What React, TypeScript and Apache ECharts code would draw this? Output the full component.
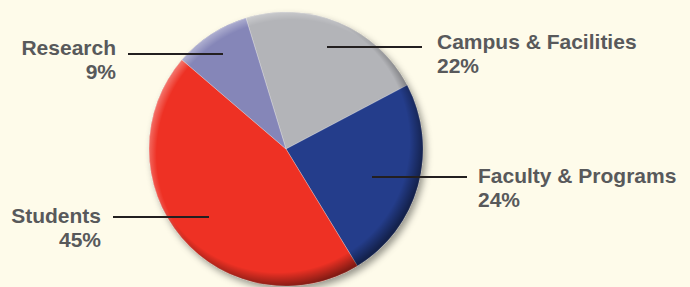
import React, { useEffect, useRef } from "react";
import * as echarts from "echarts";

const categories = ["Campus & Facilities", "Faculty & Programs", "Students", "Research"];
const values = [22, 24, 45, 9];
const colors = ["#b3b4b8", "#243d8b", "#ee3124", "#8586b8"];

export default function App() {
  const ref = useRef<HTMLDivElement>(null);
  useEffect(() => {
    document.body.style.margin = "0";
    const chart = echarts.init(ref.current!, null, { renderer: "svg" });
    const cx = 286, cy = 149, R = 137;
    const layout = [
      { tx: 437, ty: 41, align: "left", lx1: 327, lx2: 422, ly: 47 },
      { tx: 478, ty: 175, align: "left", lx1: 372, lx2: 467, ly: 177 },
      { tx: 101, ty: 215, align: "right", lx1: 113, lx2: 209, ly: 217 },
      { tx: 116, ty: 47, align: "right", lx1: 128, lx2: 223, ly: 54 },
    ];
    const textStyle = { fill: "#58595b", fontFamily: "Liberation Sans", fontWeight: "bold", fontSize: 21, lineHeight: 24 };
    const graphics: any[] = [
      {
        type: "circle",
        shape: { cx, cy, r: R },
        z: 0,
        style: { fill: "#c9c2b0", shadowBlur: 7, shadowOffsetX: 3, shadowOffsetY: 4, shadowColor: "rgba(0,0,0,0.4)" },
      },
      {
        type: "circle",
        shape: { cx, cy, r: R },
        z: 10,
        silent: true,
        style: {
          fill: new echarts.graphic.RadialGradient(cx - 8, cy - 8, R + 9, [
            { offset: 0, color: "rgba(0,0,0,0)" },
            { offset: 0.9, color: "rgba(0,0,0,0)" },
            { offset: 1, color: "rgba(0,0,0,0.45)" },
          ], true),
        },
      },
      {
        type: "circle",
        shape: { cx, cy, r: R },
        z: 11,
        silent: true,
        style: {
          fill: new echarts.graphic.RadialGradient(cx + 6, cy + 6, R + 7, [
            { offset: 0, color: "rgba(255,255,255,0)" },
            { offset: 0.94, color: "rgba(255,255,255,0)" },
            { offset: 1, color: "rgba(255,255,255,0.3)" },
          ], true),
        },
      },
    ];
    categories.forEach((name, i) => {
      const l = layout[i];
      graphics.push({
        type: "line",
        z: 20,
        shape: { x1: l.lx1, y1: l.ly, x2: l.lx2, y2: l.ly },
        style: { stroke: "#231f20", lineWidth: 2 },
      });
      graphics.push({
        type: "text",
        z: 20,
        x: l.tx,
        y: l.ty + 12,
        style: { ...textStyle, text: name + "\n" + values[i] + "%", align: l.align, verticalAlign: "middle" },
      });
    });
    chart.setOption({
      animation: false,
      backgroundColor: "#fefbea",
      graphic: { elements: graphics },
      series: [
        {
          type: "pie",
          center: [cx, cy],
          radius: R,
          startAngle: 107,
          clockwise: true,
          z: 5,
          label: { show: false },
          labelLine: { show: false },
          itemStyle: { borderColor: "rgba(255,255,255,0.35)", borderWidth: 0.8 },
          emphasis: { disabled: true },
          data: categories.map((c, i) => ({ name: c, value: values[i], itemStyle: { color: colors[i] } })),
        },
      ],
    });
    return () => chart.dispose();
  }, []);
  return <div ref={ref} style={{ width: 690, height: 287, position: "absolute", left: 0, top: 0 }} />;
}
